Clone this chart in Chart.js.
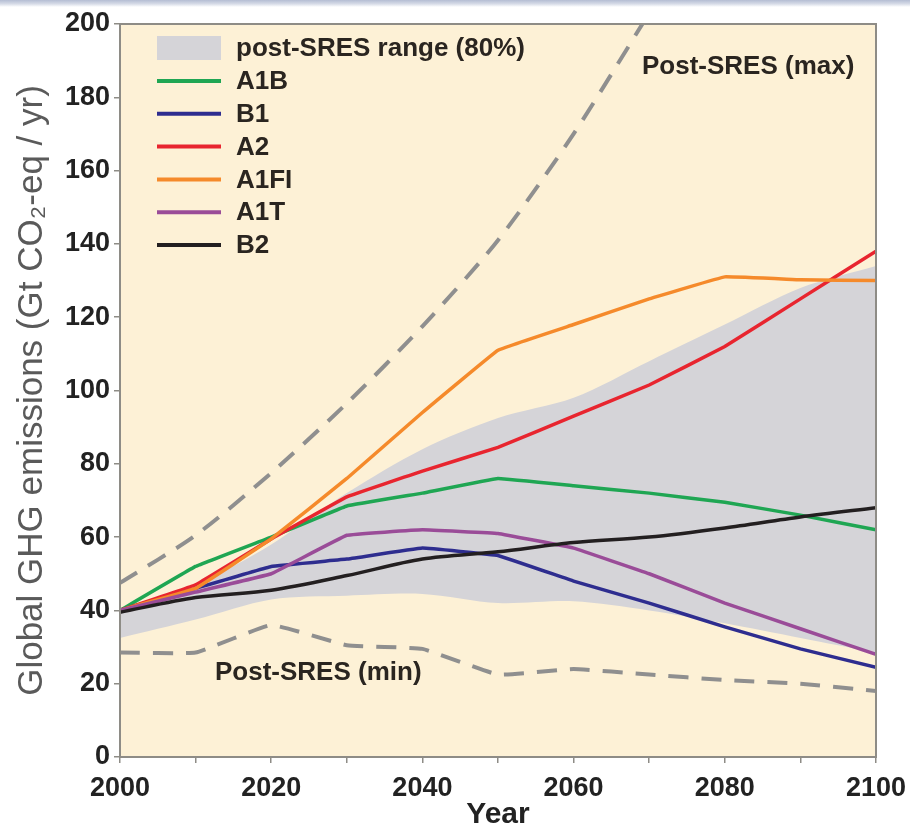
<!DOCTYPE html>
<html>
<head>
<meta charset="utf-8">
<script src="https://cdn.jsdelivr.net/npm/chart.js@4/dist/chart.umd.min.js"></script>
<style>
  html, body { margin: 0; padding: 0; background: #ffffff; }
  #wrap { position: relative; width: 910px; height: 833px; }
  #strip { position: absolute; left: 0; top: 0; width: 910px; height: 7px;
    background: linear-gradient(to bottom, #b4bdd3 0%, #d6dbe7 55%, #ffffff 100%); }
  canvas { display: block; }
</style>
</head>
<body>
<div id="wrap"><canvas id="c" width="910" height="833"></canvas><div id="strip"></div></div>
<script>
// ---- Data ----
const years     = [2000, 2010, 2020, 2030, 2040, 2050, 2060, 2070, 2080, 2090, 2100];
const A1B       = [40, 52, 60, 68.5, 72, 76, 74, 72, 69.5, 66, 62];
const B1        = [40, 46, 52, 54, 57, 55, 48, 42, 35.5, 29.5, 24.5];
const A2        = [40, 47, 59.5, 71, 78, 84.5, 93, 101.5, 112, 125, 138];
const A1FI      = [40, 46, 59.5, 76, 94, 111, 118, 125, 131, 130.2, 130];
const A1T       = [40, 45, 50, 60.5, 62, 61, 57, 50, 42, 35, 28];
const B2        = [39.5, 43.5, 45.5, 49.5, 54, 56, 58.5, 60, 62.5, 65.5, 68];
const maxSRES   = [47.5, 60.5, 77.5, 96.5, 117.5, 141, 170, 203, null, null, null];
const minSRES   = [28.5, 28.5, 36, 30.5, 29.5, 22.5, 24, 22.5, 21, 20, 18];
const bandUpper = [40, 47, 58, 72, 84, 92.5, 98, 108, 118, 128, 134];
const bandLower = [32.5, 37.5, 43, 44, 44.5, 42, 42.5, 40, 36.5, 32.5, 28.5];
const yTicks    = [0, 20, 40, 60, 80, 100, 120, 140, 160, 180, 200];
const xTickLabels = [2000, 2020, 2040, 2060, 2080, 2100];

const seriesNames  = ['A1B', 'B1', 'A2', 'A1FI', 'A1T', 'B2'];
const seriesValues = [A1B, B1, A2, A1FI, A1T, B2];
const seriesColors = ['#1fa653', '#2e2d8f', '#e8252f', '#f58a2b', '#9a4c98', '#231f20'];
const legendLabels = ['A1B', 'B1', 'A2', 'A1FI', 'A1T', 'B2'];
const bandLabel = 'post-SRES range (80%)';

const pts = arr => years.map((y, i) => ({ x: y, y: arr[i] })).filter(p => p.y !== null);

const FONT = '"Liberation Sans", Arial, sans-serif';
const BAND = '#d5d4d8';
const CREAM = '#fdf1d6';
const FRAME = '#8e8c86';
const TXT = '#2a2520';

const datasets = [
  { label: 'bandLower', data: pts(bandLower), borderWidth: 0, pointRadius: 0, fill: false, order: 20, tension: 0.3 },
  { label: 'bandUpper', data: pts(bandUpper), borderWidth: 0, pointRadius: 0, fill: '-1', backgroundColor: BAND, order: 19, tension: 0.3 },
  { label: 'max', data: pts(maxSRES), borderColor: '#8f8f8f', borderWidth: 4, borderDash: [20, 13], pointRadius: 0, fill: false, order: 15, tension: 0.25, clip: 0 },
  { label: 'min', data: pts(minSRES), borderColor: '#8f8f8f', borderWidth: 4, borderDash: [20, 13], pointRadius: 0, fill: false, order: 15, tension: 0.1 }
];
seriesNames.forEach((n, i) => {
  datasets.push({
    label: n, data: pts(seriesValues[i]), borderColor: seriesColors[i], borderWidth: 3.5,
    pointRadius: 0, fill: false, order: 10 - i, tension: n === 'B2' ? 0.3 : 0.05
  });
});

const decor = {
  id: 'decor',
  beforeDraw(chart) {
    const { ctx, chartArea: a } = chart;
    ctx.save();
    ctx.fillStyle = CREAM;
    ctx.fillRect(a.left, a.top, a.right - a.left, a.bottom - a.top);
    ctx.restore();
  },
  afterDraw(chart) {
    const { ctx, chartArea: a } = chart;
    ctx.save();
    ctx.strokeStyle = FRAME;
    ctx.lineWidth = 2;
    ctx.strokeRect(a.left, a.top, a.right - a.left, a.bottom - a.top);
    // legend
    const sx = 157, sw = 64, tx = 236;
    ctx.fillStyle = BAND;
    ctx.fillRect(sx, 36, sw, 24);
    ctx.fillStyle = TXT;
    ctx.font = 'bold 26px ' + FONT;
    ctx.textBaseline = 'middle';
    ctx.textAlign = 'left';
    ctx.fillText(bandLabel, tx, 49);
    legendLabels.forEach((l, i) => {
      const yy = 81 + i * 32.8;
      ctx.strokeStyle = seriesColors[i];
      ctx.lineWidth = 4;
      ctx.beginPath(); ctx.moveTo(sx, yy); ctx.lineTo(sx + sw, yy); ctx.stroke();
      ctx.fillStyle = TXT;
      ctx.fillText(l, tx, yy + 1);
    });
    // annotations
    ctx.fillText('Post-SRES (max)', 642, 67);
    ctx.fillText('Post-SRES (min)', 215, 673);
    ctx.restore();
  }
};

new Chart(document.getElementById('c'), {
  type: 'line',
  data: { datasets },
  options: {
    responsive: false,
    animation: false,
    layout: { padding: { top: 24, right: 34, left: 0, bottom: 0 } },
    plugins: { legend: { display: false }, tooltip: { enabled: false } },
    scales: {
      x: {
        type: 'linear', min: 2000, max: 2100,
        afterFit(s) { s.height = 76; s.paddingLeft = 0; s.paddingRight = 0; },
        afterBuildTicks(s) { s.ticks = years.map(v => ({ value: v })); },
        border: { color: FRAME, width: 2 },
        grid: { drawOnChartArea: false, tickLength: 6, color: FRAME, lineWidth: 1.5 },
        ticks: {
          color: '#222', padding: 9, maxRotation: 0, autoSkip: false,
          font: { family: FONT, size: 27, weight: 'bold' },
          callback: v => xTickLabels.includes(v) ? String(v) : ''
        },
        title: { display: true, text: 'Year', color: '#222', padding: { top: -12, bottom: 0 },
          font: { family: FONT, size: 30, weight: 'bold' } }
      },
      y: {
        min: 0, max: 200,
        afterFit(s) { s.width = 120; s.paddingTop = 0; s.paddingBottom = 0; },
        afterBuildTicks(s) { s.ticks = yTicks.map(v => ({ value: v })); },
        border: { color: FRAME, width: 2 },
        grid: { drawOnChartArea: false, tickLength: 6, color: FRAME, lineWidth: 1.5 },
        ticks: { color: '#222', padding: 4, font: { family: FONT, size: 27, weight: 'bold' } },
        title: { display: true, text: 'Global GHG emissions (Gt CO\u2082-eq / yr)', color: '#5a5a5a',
          padding: { top: 11, bottom: 0 }, font: { family: FONT, size: 35 } }
      }
    }
  },
  plugins: [decor]
});
</script>
</body>
</html>
